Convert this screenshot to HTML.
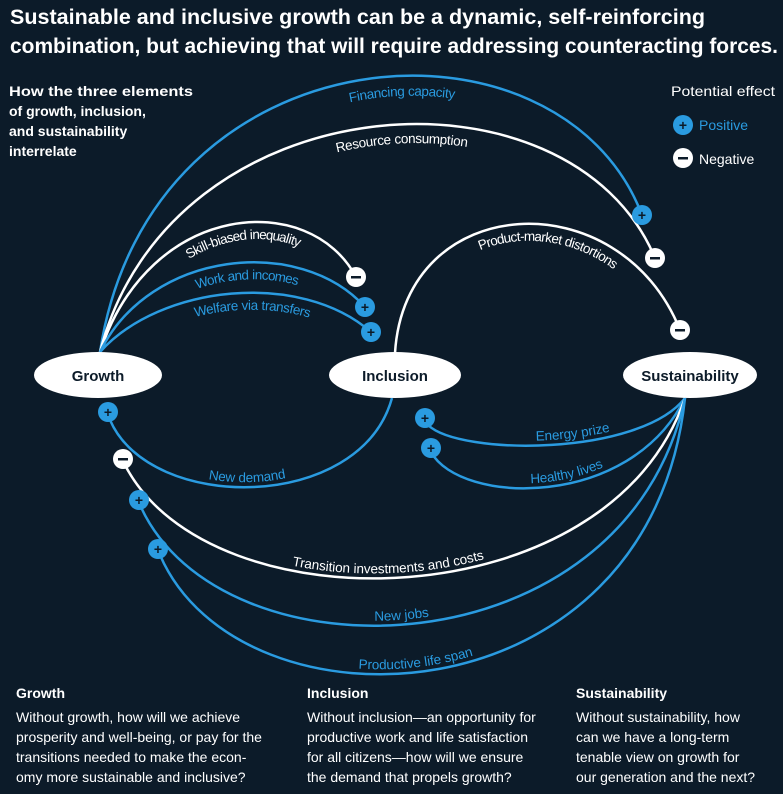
<!DOCTYPE html>
<html><head><meta charset="utf-8"><style>
html,body{margin:0;padding:0;background:#0c1b29;}
svg{display:block;font-family:"Liberation Sans",sans-serif;}
</style></head><body>
<svg width="783" height="794" viewBox="0 0 783 794" xmlns="http://www.w3.org/2000/svg">
<rect width="783" height="794" fill="#0c1b29"/>
<defs>
<path id="p1" d="M100,352 C150,25 560,0 642,215"/>
<path id="p2" d="M100,352 C170,80 570,55 655,258"/>
<path id="p3" d="M100,352 C150,200 310,190 356,277"/>
<path id="p4" d="M100,352 C150,250 300,235 365,307"/>
<path id="p5" d="M100,352 C160,285 300,270 371,332"/>
<path id="p6" d="M395,353 C405,190 620,180 680,330"/>
<path id="p7" d="M110,420 C150,513 360,513 392,398"/>
<path id="p8" d="M428,425 C460,456 640,456 685,398"/>
<path id="p9" d="M431,452 C460,505 630,510 685,398"/>
<path id="p10" d="M125,465 C210,630 610,621 685,398"/>
<path id="p11" d="M140,505 C220,685 625,675 685,398"/>
<path id="p12" d="M160,555 C240,740 650,726 685,398"/>
</defs>
<g font-weight="bold" fill="#fff" font-size="21">
<text x="10" y="24" textLength="695" lengthAdjust="spacingAndGlyphs">Sustainable and inclusive growth can be a dynamic, self-reinforcing</text>
<text x="10" y="53" textLength="768" lengthAdjust="spacingAndGlyphs">combination, but achieving that will require addressing counteracting forces.</text>
</g>
<g font-weight="bold" fill="#fff" font-size="14">
<text x="9" y="96" textLength="184" lengthAdjust="spacingAndGlyphs">How the three elements</text>
<text x="9" y="116">of growth, inclusion,</text>
<text x="9" y="136">and sustainability</text>
<text x="9" y="156">interrelate</text>
</g>
<text x="671" y="96" fill="#fff" font-size="14" textLength="104" lengthAdjust="spacingAndGlyphs">Potential effect</text>
<text x="699" y="130" fill="#2a9be0" font-size="14">Positive</text>
<text x="699" y="164" fill="#fff" font-size="14">Negative</text>
<g fill="none" stroke-width="2.5">
<use href="#p1" stroke="#2a9be0"/>
<use href="#p2" stroke="#fff"/>
<use href="#p3" stroke="#fff"/>
<use href="#p4" stroke="#2a9be0"/>
<use href="#p5" stroke="#2a9be0"/>
<use href="#p6" stroke="#fff"/>
<use href="#p7" stroke="#2a9be0"/>
<use href="#p8" stroke="#2a9be0"/>
<use href="#p9" stroke="#2a9be0"/>
<use href="#p10" stroke="#fff"/>
<use href="#p11" stroke="#2a9be0"/>
<use href="#p12" stroke="#2a9be0"/>
</g>
<g fill="#fff">
<ellipse cx="98" cy="375" rx="64" ry="23"/>
<ellipse cx="395" cy="375" rx="66" ry="23"/>
<ellipse cx="690" cy="375" rx="67" ry="23"/>
</g>
<g font-weight="bold" font-size="15" fill="#0c1b29" text-anchor="middle">
<text x="98" y="381">Growth</text>
<text x="395" y="381">Inclusion</text>
<text x="690" y="381">Sustainability</text>
</g>
<g font-size="13.5" text-anchor="middle">
<text fill="#2a9be0" dy="20"><textPath href="#p1" startOffset="60%">Financing capacity</textPath></text>
<text fill="#fff" dy="19"><textPath href="#p2" startOffset="57%">Resource consumption</textPath></text>
<text fill="#fff" dy="17"><textPath href="#p3" startOffset="60%">Skill-biased inequality</textPath></text>
<text fill="#2a9be0" dy="17"><textPath href="#p4" startOffset="58%">Work and incomes</textPath></text>
<text fill="#2a9be0" dy="17"><textPath href="#p5" startOffset="57%">Welfare via transfers</textPath></text>
<text fill="#fff" dy="17"><textPath href="#p6" startOffset="57%">Product-market distortions</textPath></text>
<text fill="#2a9be0" dy="-5"><textPath href="#p7" startOffset="47%">New demand</textPath></text>
<text fill="#2a9be0" dy="-5"><textPath href="#p8" startOffset="55%">Energy prize</textPath></text>
<text fill="#2a9be0" dy="-5"><textPath href="#p9" startOffset="50%">Healthy lives</textPath></text>
<text fill="#fff" dy="-5"><textPath href="#p10" startOffset="45%">Transition investments and costs</textPath></text>
<text fill="#2a9be0" dy="-5"><textPath href="#p11" startOffset="44%">New jobs</textPath></text>
<text fill="#2a9be0" dy="-5"><textPath href="#p12" startOffset="42%">Productive life span</textPath></text>
</g>
<g font-weight="bold" font-size="14" text-anchor="middle">
<g fill="#2a9be0"><circle cx="683" cy="125" r="10"/><circle cx="642" cy="215" r="10"/><circle cx="365" cy="307" r="10"/><circle cx="371" cy="332" r="10"/><circle cx="108" cy="412" r="10"/><circle cx="425" cy="418" r="10"/><circle cx="431" cy="448" r="10"/><circle cx="139" cy="500" r="10"/><circle cx="158" cy="549" r="10"/></g>
<g fill="#fff"><circle cx="683" cy="158" r="10"/><circle cx="655" cy="258" r="10"/><circle cx="356" cy="277" r="10"/><circle cx="680" cy="330" r="10"/><circle cx="123" cy="459" r="10"/></g>
<g fill="#0c1b29"><text x="683" y="130">+</text><text x="642" y="220">+</text><text x="365" y="312">+</text><text x="371" y="337">+</text><text x="108" y="417">+</text><text x="425" y="423">+</text><text x="431" y="453">+</text><text x="139" y="505">+</text><text x="158" y="554">+</text>
<rect x="678" y="157" width="10" height="2.5"/><rect x="650" y="257" width="10" height="2.5"/><rect x="351" y="276" width="10" height="2.5"/><rect x="675" y="329" width="10" height="2.5"/><rect x="118" y="458" width="10" height="2.5"/></g>
</g>
<g fill="#fff" font-size="14">
<text x="16" y="698" font-weight="bold">Growth</text>
<text x="16" y="722">Without growth, how will we achieve</text>
<text x="16" y="742">prosperity and well-being, or pay for the</text>
<text x="16" y="762">transitions needed to make the econ-</text>
<text x="16" y="782">omy more sustainable and inclusive?</text>
<text x="307" y="698" font-weight="bold">Inclusion</text>
<text x="307" y="722">Without inclusion—an opportunity for</text>
<text x="307" y="742">productive work and life satisfaction</text>
<text x="307" y="762">for all citizens—how will we ensure</text>
<text x="307" y="782">the demand that propels growth?</text>
<text x="576" y="698" font-weight="bold">Sustainability</text>
<text x="576" y="722">Without sustainability, how</text>
<text x="576" y="742">can we have a long-term</text>
<text x="576" y="762">tenable view on growth for</text>
<text x="576" y="782">our generation and the next?</text>
</g>
</svg>
</body></html>
